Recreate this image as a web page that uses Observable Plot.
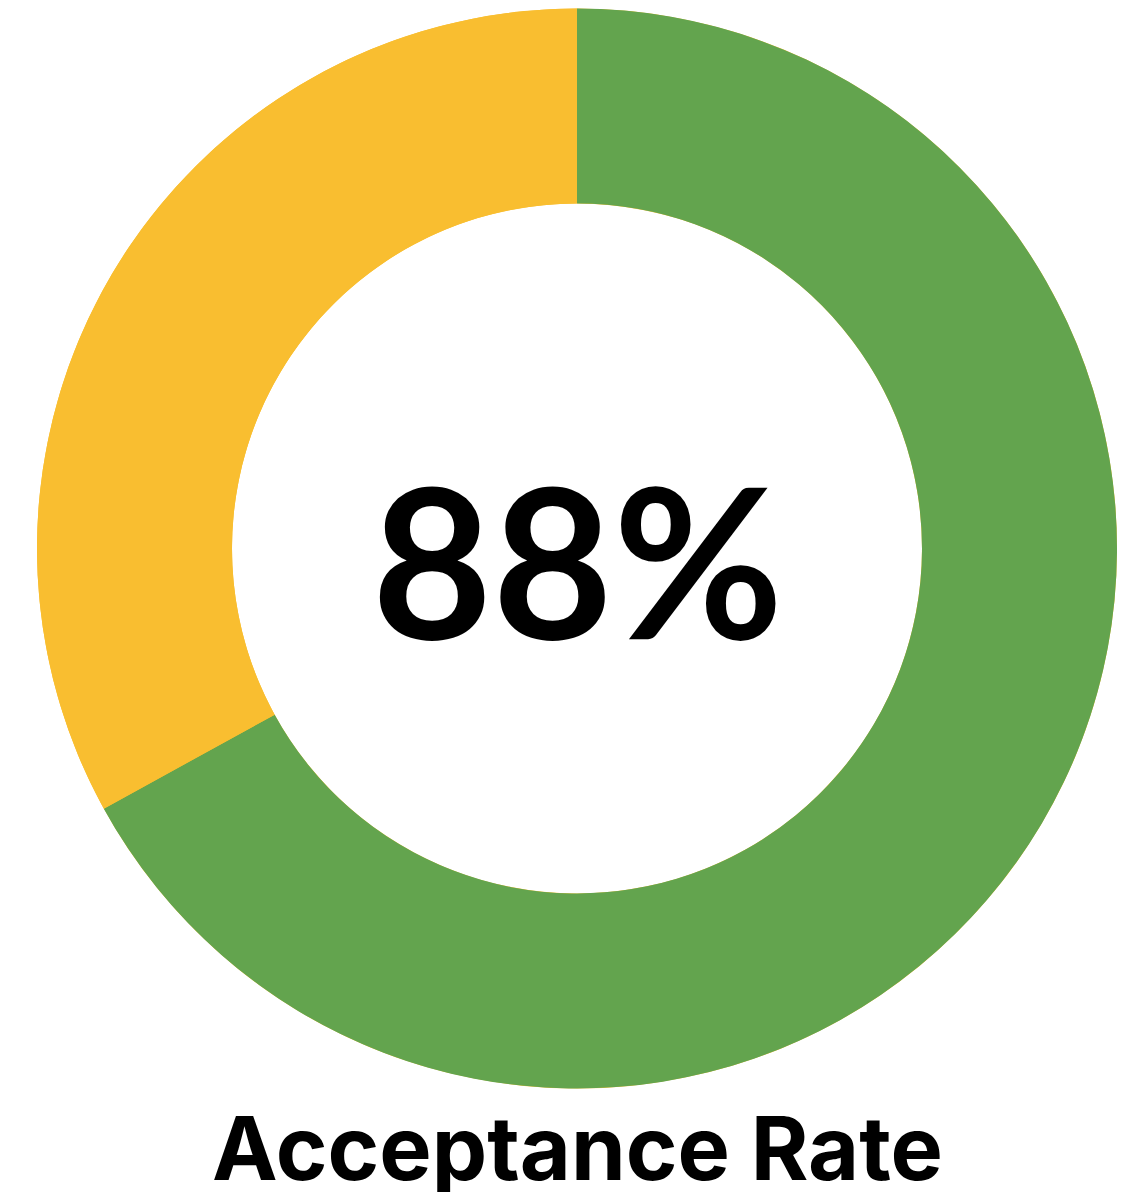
<!DOCTYPE html>
<html><head><meta charset="utf-8">
<script src="https://cdn.jsdelivr.net/npm/d3@7"></script>
<script src="https://cdn.jsdelivr.net/npm/@observablehq/plot@0.6"></script>
<style>html,body{margin:0;padding:0;background:#fff;overflow:hidden}</style>
</head><body><div id="chart"></div>
<script>
const segments = ["Accepted", "Other"];
const values = [67, 33];
const colors = ["#63A44E", "#F9BE30"];
const centerLabel = ["88%"];
const caption = ["Acceptance Rate"];

const data = segments.map((s, i) => ({segment: s, value: values[i]}));
const color = d3.scaleOrdinal(segments, colors);

const W = 1138, H = 1192, OUTER = 540, INNER = 345, TOP = 8.5;

function donut(index, scales, vals, dims) {
  const cx = dims.marginLeft + (dims.width - dims.marginLeft - dims.marginRight) / 2;
  const cy = dims.marginTop + OUTER;
  const g = d3.create("svg:g").attr("transform", `translate(${cx},${cy})`);
  const arc = d3.arc().innerRadius(INNER).outerRadius(OUTER);
  // base ring in the remainder colour, then the slices on top
  g.append("path")
    .attr("d", arc({startAngle: 0, endAngle: 2 * Math.PI}))
    .attr("fill", color(segments[1]));
  const pie = d3.pie().value(d => d.value).sort(null);
  g.selectAll("path.seg").data(pie(data)).join("path")
    .attr("class", "seg")
    .attr("d", arc)
    .attr("fill", d => color(d.data.segment));
  return g.node();
}

const chart = Plot.plot({
  width: W,
  height: H,
  marginTop: TOP,
  marginLeft: 16,
  marginRight: 0,
  marginBottom: 0,
  style: {background: "#fff"},
  marks: [
    donut,
    Plot.text(centerLabel, {
      text: d => d, frameAnchor: "top", lineAnchor: "bottom",
      dy: 638 - TOP, fontSize: 208, fontWeight: 700,
      fontFamily: "Lato, 'Noto Sans', sans-serif", fill: "#000"
    }),
    Plot.text(caption, {
      text: d => d, frameAnchor: "top", lineAnchor: "bottom",
      dy: 1179 - TOP, fontSize: 88, fontWeight: 700,
      fontFamily: "Inter, 'Noto Sans', sans-serif", fill: "#000"
    })
  ]
});
document.getElementById("chart").appendChild(chart);
</script>
</body></html>
